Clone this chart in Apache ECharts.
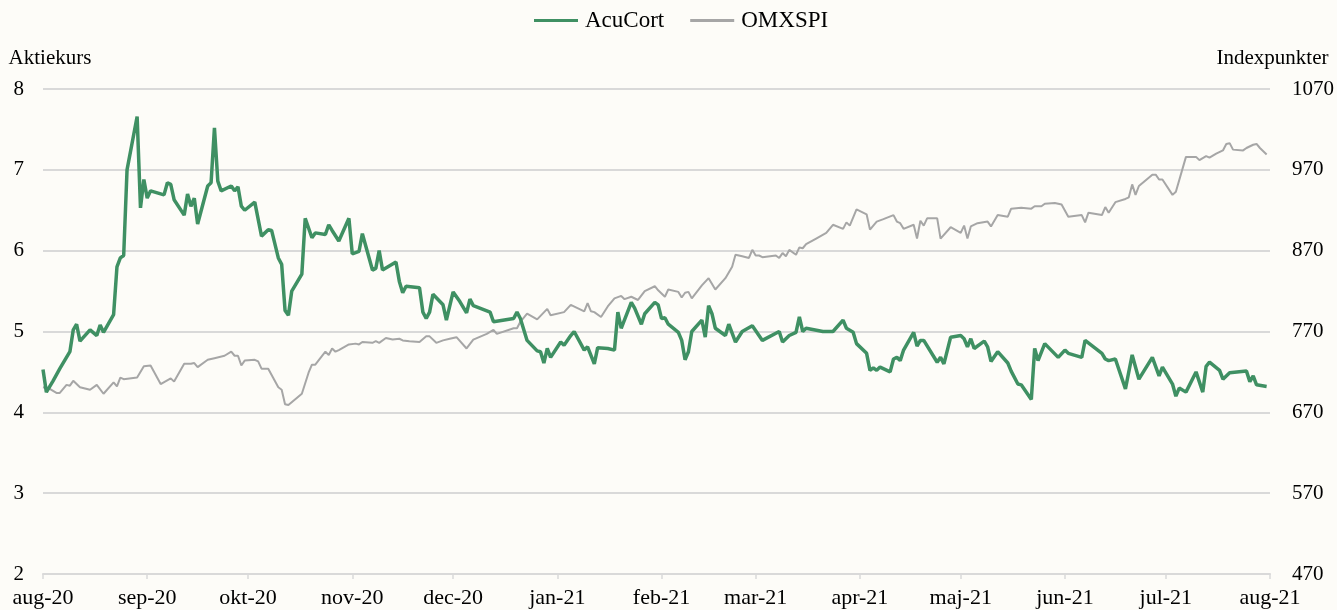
<!DOCTYPE html>
<html>
<head>
<meta charset="utf-8">
<title>AcuCort vs OMXSPI</title>
<script src="https://cdn.jsdelivr.net/npm/echarts@6/dist/echarts.min.js"></script>
<style>
  html, body { margin: 0; padding: 0; background: #fdfcf8; }
  #main { width: 1337px; height: 610px; }
</style>
</head>
<body>
<div id="main"></div>
<script>
// axis ticks
var monthTicks = ['2020-08-01', '2020-09-01', '2020-10-01', '2020-11-01', '2020-12-01', '2021-01-01',
  '2021-02-01', '2021-03-01', '2021-04-01', '2021-05-01', '2021-06-01', '2021-07-01', '2021-08-01'];
var monthNames = ['jan', 'feb', 'mar', 'apr', 'maj', 'jun', 'jul', 'aug', 'sep', 'okt', 'nov', 'dec'];
var leftTicks = [2, 3, 4, 5, 6, 7, 8];
var rightTicks = [470, 570, 670, 770, 870, 970, 1070];

// AcuCort aktiekurs
var acuDates = [
  '2020-08-01', '2020-08-02', '2020-08-04', '2020-08-06', '2020-08-09', '2020-08-10', '2020-08-11', '2020-08-12',
  '2020-08-15', '2020-08-17', '2020-08-18', '2020-08-19', '2020-08-22', '2020-08-23', '2020-08-24', '2020-08-25',
  '2020-08-26', '2020-08-29', '2020-08-30', '2020-08-31',
  '2020-09-01', '2020-09-02', '2020-09-06', '2020-09-07', '2020-09-08', '2020-09-09', '2020-09-12', '2020-09-13',
  '2020-09-14', '2020-09-15', '2020-09-16', '2020-09-19', '2020-09-20', '2020-09-21', '2020-09-22', '2020-09-23',
  '2020-09-26', '2020-09-27', '2020-09-28', '2020-09-29', '2020-09-30',
  '2020-10-03', '2020-10-05', '2020-10-07', '2020-10-08', '2020-10-10', '2020-10-11', '2020-10-12', '2020-10-13',
  '2020-10-14', '2020-10-17', '2020-10-18', '2020-10-20', '2020-10-21', '2020-10-24', '2020-10-25', '2020-10-26',
  '2020-10-28', '2020-10-31',
  '2020-11-01', '2020-11-03', '2020-11-04', '2020-11-07', '2020-11-08', '2020-11-09', '2020-11-10', '2020-11-14',
  '2020-11-15', '2020-11-16', '2020-11-17', '2020-11-21', '2020-11-22', '2020-11-23', '2020-11-24', '2020-11-25',
  '2020-11-28', '2020-11-29',
  '2020-12-01', '2020-12-03', '2020-12-05', '2020-12-06', '2020-12-07', '2020-12-12', '2020-12-13', '2020-12-19',
  '2020-12-20', '2020-12-21', '2020-12-23', '2020-12-26', '2020-12-27', '2020-12-28', '2020-12-29', '2020-12-30',
  '2021-01-02', '2021-01-03', '2021-01-05', '2021-01-06', '2021-01-09', '2021-01-10', '2021-01-12', '2021-01-13',
  '2021-01-16', '2021-01-18', '2021-01-19', '2021-01-20', '2021-01-23', '2021-01-24', '2021-01-26', '2021-01-27',
  '2021-01-30', '2021-01-31',
  '2021-02-01', '2021-02-02', '2021-02-03', '2021-02-06', '2021-02-07', '2021-02-08', '2021-02-09', '2021-02-10',
  '2021-02-13', '2021-02-14', '2021-02-15', '2021-02-16', '2021-02-17', '2021-02-20', '2021-02-21', '2021-02-23',
  '2021-02-25', '2021-02-28',
  '2021-03-03', '2021-03-08', '2021-03-09', '2021-03-11', '2021-03-13', '2021-03-14', '2021-03-15', '2021-03-16',
  '2021-03-21', '2021-03-24', '2021-03-27', '2021-03-28', '2021-03-30', '2021-03-31',
  '2021-04-03', '2021-04-04', '2021-04-05', '2021-04-06', '2021-04-07', '2021-04-10', '2021-04-11', '2021-04-12',
  '2021-04-13', '2021-04-14', '2021-04-17', '2021-04-18', '2021-04-19', '2021-04-20', '2021-04-24', '2021-04-25',
  '2021-04-26', '2021-04-28',
  '2021-05-01', '2021-05-02', '2021-05-03', '2021-05-04', '2021-05-05', '2021-05-08', '2021-05-09', '2021-05-10',
  '2021-05-12', '2021-05-15', '2021-05-16', '2021-05-18', '2021-05-19', '2021-05-22', '2021-05-23', '2021-05-24',
  '2021-05-26', '2021-05-30',
  '2021-06-01', '2021-06-02', '2021-06-06', '2021-06-07', '2021-06-12', '2021-06-13', '2021-06-14', '2021-06-16',
  '2021-06-19', '2021-06-21', '2021-06-23', '2021-06-27', '2021-06-29', '2021-06-30',
  '2021-07-03', '2021-07-04', '2021-07-05', '2021-07-07', '2021-07-10', '2021-07-12', '2021-07-13', '2021-07-14',
  '2021-07-17', '2021-07-18', '2021-07-20', '2021-07-25', '2021-07-26', '2021-07-27', '2021-07-28', '2021-07-31'
];
var acuValues = [
  4.53, 4.25, 4.39, 4.54, 4.75, 5.02, 5.09, 4.88,
  5.02, 4.95, 5.08, 4.99, 5.21, 5.80, 5.91, 5.94,
  7.00, 7.66, 6.53, 6.88,
  6.65, 6.74, 6.69, 6.84, 6.82, 6.63, 6.44, 6.70,
  6.55, 6.65, 6.33, 6.80, 6.84, 7.52, 6.86, 6.74,
  6.80, 6.74, 6.79, 6.55, 6.50,
  6.60, 6.18, 6.26, 6.25, 5.91, 5.83, 5.26, 5.20,
  5.50, 5.71, 6.40, 6.16, 6.22, 6.20, 6.32, 6.25,
  6.12, 6.40,
  5.96, 5.99, 6.21, 5.76, 5.78, 6.00, 5.76, 5.86,
  5.62, 5.48, 5.56, 5.54, 5.24, 5.16, 5.24, 5.46,
  5.33, 5.14,
  5.49, 5.37, 5.23, 5.40, 5.32, 5.24, 5.12, 5.16,
  5.24, 5.16, 4.89, 4.76, 4.75, 4.61, 4.79, 4.68,
  4.87, 4.83, 4.95, 5.00, 4.77, 4.81, 4.60, 4.80,
  4.79, 4.77, 5.24, 5.04, 5.36, 5.29, 5.09, 5.22,
  5.36, 5.33,
  5.16, 5.17, 5.09, 4.99, 4.89, 4.65, 4.75, 5.00,
  5.14, 4.93, 5.32, 5.22, 5.04, 4.95, 5.09, 4.87,
  5.00, 5.07,
  4.89, 5.00, 4.87, 4.95, 4.99, 5.18, 5.00, 5.04,
  5.00, 5.00, 5.14, 5.04, 4.99, 4.85,
  4.73, 4.52, 4.55, 4.52, 4.56, 4.50, 4.66, 4.68,
  4.64, 4.77, 4.99, 4.82, 4.89, 4.89, 4.62, 4.68,
  4.60, 4.93,
  4.95, 4.91, 4.81, 4.91, 4.79, 4.88, 4.81, 4.63,
  4.75, 4.61, 4.51, 4.35, 4.34, 4.16, 4.79, 4.64,
  4.85, 4.68,
  4.77, 4.73, 4.68, 4.89, 4.73, 4.66, 4.64, 4.66,
  4.29, 4.71, 4.41, 4.68, 4.45, 4.56,
  4.35, 4.20, 4.30, 4.25, 4.50, 4.25, 4.57, 4.62,
  4.52, 4.41, 4.49, 4.51, 4.38, 4.45, 4.34, 4.32
];

// OMXSPI indexpunkter
var omxDates = [
  '2020-08-01', '2020-08-03', '2020-08-05', '2020-08-06', '2020-08-08', '2020-08-09', '2020-08-10', '2020-08-12',
  '2020-08-15', '2020-08-17', '2020-08-19', '2020-08-22', '2020-08-23', '2020-08-24', '2020-08-25', '2020-08-29',
  '2020-08-31',
  '2020-09-02', '2020-09-05', '2020-09-08', '2020-09-09', '2020-09-12', '2020-09-14', '2020-09-15', '2020-09-16',
  '2020-09-19', '2020-09-21', '2020-09-24', '2020-09-26', '2020-09-27', '2020-09-28', '2020-09-29', '2020-09-30',
  '2020-10-03', '2020-10-04', '2020-10-05', '2020-10-07', '2020-10-10', '2020-10-11', '2020-10-12', '2020-10-13',
  '2020-10-17', '2020-10-19', '2020-10-20', '2020-10-21', '2020-10-24', '2020-10-25', '2020-10-26', '2020-10-27',
  '2020-10-28', '2020-10-31',
  '2020-11-02', '2020-11-03', '2020-11-04', '2020-11-07', '2020-11-08', '2020-11-09', '2020-11-11', '2020-11-13',
  '2020-11-15', '2020-11-16', '2020-11-18', '2020-11-21', '2020-11-23', '2020-11-24', '2020-11-26', '2020-11-28',
  '2020-11-30',
  '2020-12-02', '2020-12-05', '2020-12-07', '2020-12-11', '2020-12-13', '2020-12-14', '2020-12-19', '2020-12-20',
  '2020-12-21', '2020-12-23', '2020-12-26', '2020-12-29', '2020-12-30',
  '2021-01-03', '2021-01-05', '2021-01-07', '2021-01-09', '2021-01-10', '2021-01-11', '2021-01-12', '2021-01-14',
  '2021-01-16', '2021-01-18', '2021-01-20', '2021-01-21', '2021-01-23', '2021-01-25', '2021-01-27', '2021-01-30',
  '2021-01-31',
  '2021-02-02', '2021-02-03', '2021-02-06', '2021-02-07', '2021-02-08', '2021-02-09', '2021-02-10', '2021-02-13',
  '2021-02-15', '2021-02-17', '2021-02-20', '2021-02-22', '2021-02-23', '2021-02-25', '2021-02-27', '2021-02-28',
  '2021-03-01', '2021-03-02', '2021-03-03', '2021-03-07', '2021-03-08', '2021-03-09', '2021-03-10', '2021-03-11',
  '2021-03-13', '2021-03-14', '2021-03-15', '2021-03-16', '2021-03-19', '2021-03-22', '2021-03-24', '2021-03-27',
  '2021-03-28', '2021-03-29', '2021-03-31',
  '2021-04-03', '2021-04-04', '2021-04-06', '2021-04-08', '2021-04-11', '2021-04-12', '2021-04-13', '2021-04-14',
  '2021-04-17', '2021-04-18', '2021-04-19', '2021-04-20', '2021-04-21', '2021-04-24', '2021-04-25', '2021-04-28',
  '2021-05-01', '2021-05-02', '2021-05-03', '2021-05-04', '2021-05-06', '2021-05-09', '2021-05-10', '2021-05-12',
  '2021-05-15', '2021-05-16', '2021-05-19', '2021-05-22', '2021-05-23', '2021-05-25', '2021-05-26', '2021-05-29',
  '2021-05-31',
  '2021-06-02', '2021-06-06', '2021-06-07', '2021-06-08', '2021-06-12', '2021-06-13', '2021-06-14', '2021-06-16',
  '2021-06-19', '2021-06-20', '2021-06-21', '2021-06-22', '2021-06-23', '2021-06-27', '2021-06-28', '2021-06-29',
  '2021-06-30',
  '2021-07-03', '2021-07-04', '2021-07-07', '2021-07-10', '2021-07-11', '2021-07-13', '2021-07-14', '2021-07-16',
  '2021-07-18', '2021-07-19', '2021-07-20', '2021-07-21', '2021-07-24', '2021-07-25', '2021-07-27', '2021-07-28',
  '2021-07-29', '2021-07-31'
];
var omxValues = [
  701, 699, 694, 694, 704, 703, 709, 701,
  698, 704, 693, 707, 702, 713, 711, 713,
  727,
  728, 705, 712, 708, 730, 730, 731, 726,
  735, 737, 740, 745, 740, 740, 728, 734,
  735, 733, 724, 724, 701, 698, 680, 679,
  693, 719, 729, 729, 745, 741, 749, 745,
  747, 754,
  755, 754, 757, 756, 758, 756, 762, 760,
  761, 759, 758, 757, 764, 764, 756, 759,
  761,
  763, 749, 760, 767, 772, 767, 774, 774,
  782, 792, 785, 798, 790,
  794, 803, 799, 795, 805, 795, 794, 788,
  801, 811, 814, 810, 813, 809, 820, 826,
  821,
  813, 822, 819, 812, 818, 819, 811, 827,
  836, 822, 836, 850, 865, 863, 861, 871,
  864, 864, 862, 864, 861, 867, 863, 871,
  865, 874, 873, 878, 885, 892, 902, 897,
  905, 901, 921,
  915, 896, 906, 909, 914, 906, 904, 897,
  902, 885, 907, 901, 910, 910, 885, 899,
  892, 901, 885, 900, 904, 906, 900, 914,
  912, 922, 923, 922, 925, 925, 928, 929,
  927,
  912, 914, 905, 917, 914, 924, 917, 930,
  934, 936, 952, 939, 950, 964, 964, 958,
  958,
  939, 943, 986, 986, 982, 987, 985, 990,
  994, 1002, 1003, 995, 994, 997, 1001, 1002,
  997, 989
];

var font = 'Liberation Serif';
var gridColor = '#d9d9d9';
var acuColor = '#3f9063';
var omxColor = '#a6a6a6';
var DAY = 24 * 3600 * 1000;

var myChart = echarts.init(document.getElementById('main'));

function pairs(dates, values) {
  return dates.map(function (d, i) { return [d, values[i]]; });
}

var option = {
  backgroundColor: '#fdfcf8',
  animation: false,
  textStyle: { fontFamily: font, color: '#000' },
  legend: {
    data: [
      { name: 'AcuCort', icon: 'rect', itemStyle: { color: acuColor } },
      { name: 'OMXSPI', icon: 'rect', itemStyle: { color: omxColor } }
    ],
    top: 4,
    left: 529,
    itemWidth: 44,
    itemHeight: 3,
    itemGap: 26,
    textStyle: { fontFamily: font, fontSize: 23, color: '#000', padding: [0, 0, 0, 2] }
  },
  grid: { left: 43, right: 66, top: 89, bottom: 36 },
  xAxis: {
    type: 'time',
    min: monthTicks[0],
    max: monthTicks[monthTicks.length - 1],
    minInterval: 28 * DAY,
    maxInterval: 31 * DAY,
    axisLine: { lineStyle: { color: gridColor, width: 2 } },
    axisTick: { show: true, length: 5, lineStyle: { color: gridColor, width: 1.5 } },
    axisLabel: {
      margin: 13,
      fontFamily: font,
      fontSize: 22,
      color: '#000',
      showMinLabel: true,
      showMaxLabel: true,
      formatter: function (val) {
        var d = new Date(val);
        return monthNames[d.getMonth()] + '-' + String(d.getFullYear()).slice(2);
      }
    },
    splitLine: { show: false }
  },
  yAxis: [
    {
      type: 'value',
      min: leftTicks[0],
      max: leftTicks[leftTicks.length - 1],
      interval: 1,
      name: 'Aktiekurs',
      nameLocation: 'end',
      nameGap: 20,
      nameTextStyle: { fontFamily: font, fontSize: 21, color: '#000', padding: [0, 0, 0, 14] },
      axisLine: { show: false },
      axisTick: { show: false },
      axisLabel: { margin: 19, fontFamily: font, fontSize: 21, color: '#000' },
      splitLine: { lineStyle: { color: gridColor, width: 2 } }
    },
    {
      type: 'value',
      position: 'right',
      min: rightTicks[0],
      max: rightTicks[rightTicks.length - 1],
      name: 'Indexpunkter',
      nameLocation: 'end',
      nameGap: 20,
      nameTextStyle: { fontFamily: font, fontSize: 21, color: '#000', padding: [0, 0, 0, 5] },
      axisLine: { show: false },
      axisTick: { show: false },
      axisLabel: {
        customValues: rightTicks,
        margin: 22,
        fontFamily: font,
        fontSize: 21,
        color: '#000',
        formatter: function (v) { return String(v); }
      },
      splitLine: { show: false }
    }
  ],
  series: [
    {
      name: 'OMXSPI',
      type: 'line',
      yAxisIndex: 1,
      symbol: 'none',
      data: pairs(omxDates, omxValues),
      lineStyle: { color: omxColor, width: 2 },
      itemStyle: { color: omxColor }
    },
    {
      name: 'AcuCort',
      type: 'line',
      yAxisIndex: 0,
      symbol: 'none',
      data: pairs(acuDates, acuValues),
      lineStyle: { color: acuColor, width: 3.5 },
      itemStyle: { color: acuColor }
    }
  ]
};

myChart.setOption(option);
</script>
</body>
</html>
